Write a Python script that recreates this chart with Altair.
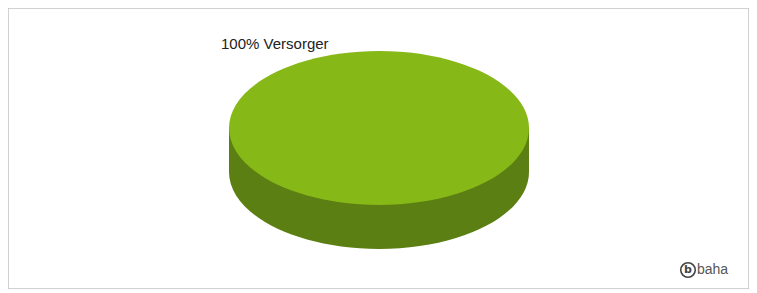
import altair as alt
import pandas as pd

# Data
categories = ["Versorger"]
values = [100]

df = pd.DataFrame({"category": categories, "value": values})

# Ellipse geometry (normalized glyph shapes, rx = 1)
TOP_SHAPE = ("M -1 0 C -1 -0.2835 -0.5523 -0.5133 0 -0.5133 "
             "C 0.5523 -0.5133 1 -0.2835 1 0 "
             "C 1 0.2835 0.5523 0.5133 0 0.5133 "
             "C -0.5523 0.5133 -1 0.2835 -1 0 Z")
SIDE_SHAPE = ("M -1 0 L -1 0.2933 C -1 0.5768 -0.5523 0.8066 0 0.8066 "
              "C 0.5523 0.8066 1 0.5768 1 0.2933 L 1 0 Z")

CX, CY = 371, 120
PIE_SIZE = 300 ** 2

base = alt.Chart(df)

side = base.mark_point(
    shape=SIDE_SHAPE, filled=True, opacity=1, strokeWidth=0, size=PIE_SIZE
).encode(
    x=alt.value(CX), y=alt.value(CY),
    color=alt.Color("category:N", scale=alt.Scale(range=["#5B7F12"]), legend=None),
)

top = base.mark_point(
    shape=TOP_SHAPE, filled=True, opacity=1, strokeWidth=0, size=PIE_SIZE
).encode(
    x=alt.value(CX), y=alt.value(CY),
    fill=alt.Fill("category:N", scale=alt.Scale(range=["#86B817"]), legend=None),
)

label = base.transform_calculate(
    lbl="format(datum.value, 'd') + '% ' + datum.category"
).mark_text(
    align="left", baseline="middle", font="Liberation Sans", fontSize=15, color="#222222"
).encode(
    x=alt.value(213), y=alt.value(36), text="lbl:N"
)

logo_circle = base.mark_point(
    shape="circle", filled=False, size=210, stroke="#444444", strokeWidth=1.6, opacity=1
).encode(x=alt.value(680), y=alt.value(262))

logo_b = base.mark_text(
    text="b", font="DejaVu Sans", fontWeight="bold", fontSize=11, color="#444444",
    align="center", baseline="middle"
).encode(x=alt.value(680), y=alt.value(261.5))

logo_text = base.mark_text(
    text="baha", font="Liberation Sans", fontSize=14, color="#555555",
    align="left", baseline="middle"
).encode(x=alt.value(689), y=alt.value(262))

chart = alt.layer(side, top, label, logo_circle, logo_b, logo_text).properties(
    width=741, height=281, padding=0, autosize="none"
).configure_view(
    stroke="#c4c4c4", strokeWidth=1.5
).resolve_scale(color="independent", fill="independent")

chart.save("out.html", embed_options={"renderer": "svg", "actions": False})
